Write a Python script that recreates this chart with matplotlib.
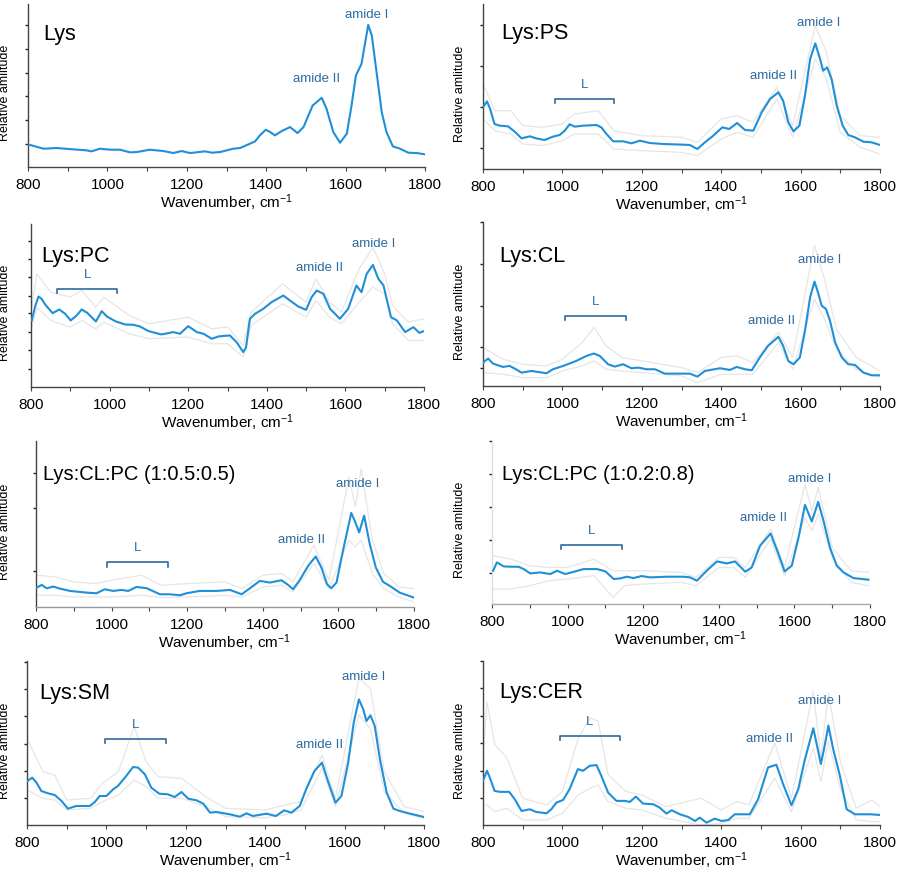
import matplotlib
matplotlib.use("Agg")
import matplotlib.pyplot as plt
from matplotlib.ticker import MultipleLocator

plt.rcParams['font.family'] = ['Liberation Sans', 'DejaVu Sans']
plt.rcParams['mathtext.fontset'] = 'custom'
plt.rcParams['mathtext.rm'] = 'Liberation Sans'
plt.rcParams['mathtext.it'] = 'Liberation Sans'

# ---------------- data (relative amplitude, arbitrary units) ----------------
titles = ["Lys", "Lys:PS", "Lys:PC", "Lys:CL",
          "Lys:CL:PC (1:0.5:0.5)", "Lys:CL:PC (1:0.2:0.8)", "Lys:SM", "Lys:CER"]

# Lys
lys_wn = [800, 839, 872, 948, 960, 981, 1007, 1032, 1057, 1074, 1107, 1141, 1166, 1187, 1208,
          1246, 1263, 1284, 1317, 1334, 1359, 1372, 1384, 1399, 1410, 1422, 1439, 1460, 1479,
          1494, 1517, 1540, 1552, 1569, 1586, 1603, 1615, 1626, 1640, 1657, 1666, 1678, 1691,
          1703, 1719, 1737, 1758, 1779, 1800]
lys_mean = [0.68, 0.55, 0.57, 0.50, 0.47, 0.55, 0.52, 0.52, 0.44, 0.45, 0.52, 0.48, 0.42, 0.48,
            0.42, 0.47, 0.43, 0.45, 0.55, 0.57, 0.70, 0.77, 0.95, 1.12, 1.05, 0.95, 1.08, 1.20,
            1.02, 1.20, 1.85, 2.08, 1.75, 1.05, 0.73, 1.00, 1.85, 2.75, 3.10, 4.27, 3.95, 2.85,
            1.65, 1.05, 0.62, 0.55, 0.43, 0.42, 0.38]

# Lys:PS
ps_wn = [800, 810, 818, 829, 842, 863, 880, 897, 918, 934, 955, 976, 993, 1006, 1018, 1031, 1052,
         1086, 1098, 1111, 1128, 1153, 1174, 1195, 1220, 1254, 1304, 1321, 1340, 1359, 1380, 1403,
         1420, 1440, 1460, 1481, 1502, 1523, 1544, 1556, 1569, 1582, 1597, 1611, 1624, 1637, 1649,
         1657, 1667, 1678, 1691, 1706, 1720, 1737, 1758, 1779, 1800]
ps_mean = [1.85, 2.03, 1.80, 1.35, 1.30, 1.28, 1.12, 0.92, 0.98, 0.92, 0.87, 0.97, 1.02, 1.15,
           1.34, 1.27, 1.30, 1.32, 1.25, 1.05, 0.83, 0.83, 0.77, 0.85, 0.78, 0.75, 0.73, 0.72,
           0.60, 0.80, 1.00, 1.25, 1.20, 1.38, 1.17, 1.15, 1.70, 2.10, 2.30, 2.05, 1.40, 1.13,
           1.30, 2.20, 3.30, 3.77, 3.30, 2.95, 3.05, 2.70, 1.90, 1.30, 1.02, 0.95, 0.82, 0.80, 0.72]
ps_gray_wn = [800, 830, 870, 900, 950, 1000, 1030, 1090, 1130, 1200, 1300, 1340, 1400, 1440, 1480,
              1540, 1580, 1637, 1665, 1700, 1750, 1800]
ps_gray_hi = [2.55, 1.75, 1.75, 1.30, 1.25, 1.35, 1.65, 1.75, 1.15, 1.00, 0.95, 0.80, 1.50, 1.60,
              1.40, 2.45, 1.30, 4.30, 3.50, 1.60, 1.00, 0.95]
ps_gray_lo = [1.50, 1.15, 1.05, 0.75, 0.70, 0.85, 1.05, 1.05, 0.60, 0.55, 0.50, 0.40, 0.90, 1.10,
              0.95, 2.10, 0.95, 3.30, 2.70, 1.10, 0.65, 0.45]

# Lys:PC
pc_wn = [802, 810, 819, 827, 836, 855, 872, 887, 901, 916, 929, 943, 965, 980, 993, 1014, 1039,
         1060, 1077, 1099, 1132, 1162, 1179, 1200, 1222, 1239, 1260, 1277, 1306, 1323, 1340, 1347,
         1357, 1370, 1391, 1412, 1442, 1459, 1480, 1500, 1514, 1527, 1544, 1561, 1586, 1607, 1628,
         1641, 1654, 1670, 1684, 1697, 1716, 1731, 1752, 1773, 1788, 1800]
pc_mean = [2.00, 2.40, 2.72, 2.65, 2.48, 2.22, 2.33, 2.20, 2.00, 2.15, 2.33, 2.23, 1.97, 2.28,
           2.12, 1.98, 1.88, 1.87, 1.82, 1.68, 1.58, 1.65, 1.60, 1.83, 1.65, 1.60, 1.45, 1.52,
           1.55, 1.35, 1.05, 1.18, 2.05, 2.20, 2.35, 2.55, 2.75, 2.60, 2.42, 2.32, 2.70, 2.90,
           2.80, 2.35, 2.05, 2.35, 3.05, 2.85, 3.40, 3.67, 3.25, 3.05, 2.10, 2.00, 1.65, 1.80,
           1.63, 1.68]
pc_gray_wn = [802, 815, 850, 900, 930, 965, 985, 1050, 1100, 1200, 1260, 1300, 1340, 1360, 1440,
              1500, 1525, 1560, 1590, 1635, 1670, 1700, 1720, 1760, 1800]
pc_gray_hi = [2.40, 3.40, 2.85, 2.70, 2.90, 2.40, 2.70, 2.15, 1.90, 2.10, 1.75, 1.80, 1.25, 2.25,
              3.10, 2.55, 3.25, 2.55, 2.25, 3.55, 4.20, 3.40, 2.45, 1.95, 2.05]
pc_gray_lo = [1.80, 2.40, 2.00, 1.80, 2.00, 1.75, 1.95, 1.60, 1.45, 1.50, 1.30, 1.30, 0.90, 1.85,
              2.50, 2.10, 2.60, 2.10, 1.90, 2.55, 3.00, 2.80, 1.90, 1.40, 1.40]

# Lys:CL
cl_wn = [800, 813, 825, 850, 867, 880, 897, 922, 960, 976, 1002, 1035, 1061, 1079, 1094, 1115,
         1132, 1153, 1174, 1191, 1212, 1233, 1258, 1304, 1321, 1340, 1359, 1397, 1422, 1439, 1460,
         1477, 1497, 1518, 1544, 1556, 1569, 1582, 1598, 1611, 1624, 1635, 1645, 1653, 1664, 1674,
         1687, 1704, 1720, 1737, 1758, 1779, 1800]
cl_mean = [0.70, 0.82, 0.67, 0.57, 0.60, 0.52, 0.40, 0.45, 0.38, 0.50, 0.60, 0.75, 0.90, 0.97,
           0.90, 0.65, 0.58, 0.65, 0.53, 0.55, 0.50, 0.50, 0.37, 0.37, 0.37, 0.28, 0.45, 0.53,
           0.48, 0.57, 0.50, 0.47, 0.85, 1.20, 1.47, 1.20, 0.75, 0.65, 0.85, 1.65, 2.65, 3.12,
           2.75, 2.40, 2.30, 1.95, 1.30, 0.85, 0.65, 0.63, 0.40, 0.32, 0.32]
cl_gray_wn = [800, 850, 900, 960, 1000, 1050, 1080, 1110, 1150, 1200, 1300, 1340, 1400, 1440, 1480,
              1544, 1580, 1635, 1660, 1690, 1740, 1800]
cl_gray_hi = [1.15, 0.80, 0.65, 0.60, 0.80, 1.30, 1.75, 1.20, 0.85, 0.75, 0.55, 0.40, 0.85, 0.90,
              0.70, 1.60, 0.85, 4.20, 3.20, 1.70, 0.85, 0.45]
cl_gray_lo = [0.40, 0.35, 0.25, 0.25, 0.45, 0.60, 0.75, 0.50, 0.45, 0.40, 0.30, 0.10, 0.35, 0.35,
              0.35, 1.30, 0.50, 2.60, 2.00, 1.10, 0.50, 0.25]

# Lys:CL:PC (1:0.5:0.5)
clpc1_wn = [802, 815, 828, 846, 863, 890, 934, 960, 982, 1004, 1026, 1044, 1066, 1093, 1128, 1154,
            1181, 1198, 1233, 1278, 1313, 1344, 1366, 1392, 1419, 1449, 1467, 1480, 1498, 1520,
            1540, 1555, 1570, 1581, 1595, 1612, 1634, 1643, 1655, 1668, 1683, 1699, 1718, 1736,
            1762, 1800]
clpc1_mean = [0.58, 0.66, 0.56, 0.61, 0.55, 0.48, 0.43, 0.41, 0.53, 0.48, 0.51, 0.48, 0.60, 0.56,
              0.38, 0.38, 0.35, 0.41, 0.48, 0.48, 0.51, 0.38, 0.56, 0.78, 0.73, 0.80, 0.66, 0.53,
              0.81, 1.23, 1.51, 1.18, 0.68, 0.56, 0.73, 1.68, 2.81, 2.58, 2.23, 2.73, 1.88, 1.18,
              0.75, 0.63, 0.43, 0.28]
clpc1_gray_wn = [802, 850, 900, 960, 1000, 1080, 1130, 1200, 1300, 1345, 1400, 1450, 1480, 1535,
                 1575, 1628, 1645, 1660, 1690, 1720, 1760, 1800]
clpc1_gray_hi = [0.95, 0.90, 0.75, 0.70, 0.80, 0.95, 0.65, 0.70, 0.75, 0.55, 0.95, 1.00, 0.75, 1.85,
                 0.80, 3.88, 3.00, 4.13, 2.00, 1.00, 0.60, 0.55]
clpc1_gray_lo = [0.35, 0.35, 0.30, 0.30, 0.30, 0.35, 0.28, 0.30, 0.35, 0.30, 0.60, 0.65, 0.45, 1.30,
                 0.55, 2.00, 1.80, 2.00, 1.00, 0.55, 0.30, 0.15]

# Lys:CL:PC (1:0.2:0.8)
clpc2_wn = [803, 813, 831, 853, 870, 884, 901, 928, 954, 972, 994, 1020, 1042, 1078, 1100, 1122,
            1139, 1157, 1174, 1196, 1218, 1263, 1307, 1324, 1342, 1368, 1395, 1421, 1443, 1470,
            1487, 1509, 1537, 1558, 1574, 1593, 1611, 1628, 1646, 1663, 1677, 1694, 1712, 1730,
            1756, 1796]
clpc2_mean = [1.00, 1.25, 1.13, 1.12, 1.12, 1.05, 0.92, 0.95, 0.90, 1.00, 0.90, 0.98, 1.05, 1.05,
              0.98, 0.75, 0.77, 0.82, 0.78, 0.84, 0.80, 0.82, 0.82, 0.80, 0.70, 1.00, 1.28, 1.22,
              1.28, 0.97, 1.10, 1.75, 2.12, 1.50, 0.98, 1.15, 2.00, 2.98, 2.48, 3.07, 2.50, 1.70,
              1.15, 0.95, 0.78, 0.73]
clpc2_gray_wn = [803, 850, 900, 950, 1000, 1070, 1120, 1150, 1200, 1300, 1340, 1400, 1440, 1470,
                 1537, 1574, 1628, 1646, 1663, 1700, 1750, 1796]
clpc2_gray_hi = [1.45, 1.35, 1.15, 1.10, 1.10, 1.35, 1.00, 1.00, 1.00, 0.95, 0.80, 1.40, 1.40, 1.10,
                 2.25, 1.10, 3.60, 2.80, 3.50, 1.70, 1.00, 0.95]
clpc2_gray_lo = [0.45, 0.45, 0.55, 0.70, 0.75, 0.85, 0.20, 0.55, 0.60, 0.65, 0.55, 1.10, 1.10, 0.80,
                 1.95, 0.85, 2.60, 2.20, 2.70, 1.40, 0.65, 0.55]

# Lys:SM
sm_wn = [801, 813, 824, 836, 853, 870, 887, 903, 924, 958, 971, 983, 1000, 1017, 1029, 1050, 1067,
         1080, 1097, 1113, 1133, 1155, 1172, 1189, 1206, 1227, 1244, 1261, 1277, 1311, 1336, 1353,
         1369, 1403, 1427, 1448, 1466, 1487, 1503, 1524, 1543, 1558, 1577, 1592, 1609, 1623, 1636,
         1647, 1655, 1665, 1676, 1689, 1706, 1723, 1739, 1765, 1800]
sm_mean = [1.32, 1.42, 1.27, 1.02, 0.95, 0.90, 0.72, 0.49, 0.57, 0.57, 0.69, 0.87, 0.87, 1.07,
           1.17, 1.47, 1.74, 1.72, 1.52, 1.12, 0.94, 0.92, 0.84, 0.99, 0.79, 0.74, 0.64, 0.37,
           0.39, 0.32, 0.25, 0.35, 0.27, 0.34, 0.27, 0.44, 0.37, 0.57, 1.07, 1.62, 1.87, 1.32,
           0.67, 0.87, 1.87, 3.07, 3.77, 3.47, 3.12, 3.29, 2.97, 1.97, 0.97, 0.49, 0.42, 0.34, 0.24]
sm_gray_wn = [801, 840, 870, 900, 960, 990, 1030, 1070, 1100, 1130, 1190, 1250, 1300, 1400, 1450,
              1490, 1543, 1577, 1636, 1665, 1700, 1750, 1800]
sm_gray_hi = [2.57, 1.60, 1.50, 0.75, 0.80, 1.25, 1.60, 2.95, 1.90, 1.45, 1.40, 0.85, 0.50, 0.45,
              0.60, 0.70, 2.10, 0.80, 4.40, 4.10, 1.60, 0.55, 0.40]
sm_gray_lo = [1.05, 0.80, 0.75, 0.45, 0.50, 0.70, 0.90, 1.35, 1.15, 0.80, 0.80, 0.55, 0.25, 0.22,
              0.30, 0.45, 1.70, 0.55, 3.30, 2.90, 1.00, 0.35, 0.20]

# Lys:CER
cer_wn = [800, 810, 817, 829, 842, 866, 880, 897, 918, 934, 960, 972, 985, 1002, 1018, 1039, 1052,
          1069, 1086, 1098, 1115, 1136, 1157, 1170, 1185, 1203, 1229, 1245, 1262, 1275, 1296, 1317,
          1334, 1346, 1363, 1384, 1401, 1418, 1434, 1472, 1493, 1518, 1539, 1556, 1577, 1594, 1611,
          1632, 1645, 1651, 1659, 1670, 1682, 1699, 1716, 1737, 1775, 1800]
cer_mean = [1.32, 1.62, 1.42, 1.02, 0.99, 0.99, 0.77, 0.42, 0.47, 0.39, 0.35, 0.47, 0.67, 0.75,
            1.07, 1.67, 1.62, 1.77, 1.79, 1.47, 0.97, 0.72, 0.72, 0.69, 0.85, 0.64, 0.62, 0.52,
            0.34, 0.44, 0.32, 0.24, 0.12, 0.22, 0.07, 0.19, 0.12, 0.15, 0.32, 0.32, 0.77, 1.72,
            1.80, 1.22, 0.59, 1.07, 1.97, 2.89, 2.17, 1.82, 2.27, 2.97, 2.27, 1.47, 0.47, 0.32,
            0.32, 0.30]
cer_gray_wn = [800, 810, 830, 860, 900, 960, 1000, 1040, 1070, 1090, 1115, 1160, 1200, 1260, 1350,
               1400, 1440, 1470, 1535, 1577, 1632, 1651, 1670, 1700, 1740, 1780, 1800]
cer_gray_hi = [2.00, 3.67, 2.40, 2.00, 0.80, 0.60, 1.00, 2.60, 3.20, 3.10, 1.50, 1.00, 0.90, 0.55,
               0.80, 0.45, 0.70, 0.60, 2.45, 0.80, 4.00, 2.00, 3.95, 1.90, 0.50, 0.75, 0.55]
cer_gray_lo = [0.60, 0.60, 0.40, 0.50, 0.15, 0.15, 0.35, 0.90, 1.10, 1.20, 0.70, 0.50, 0.45, 0.20,
               0.00, 0.05, 0.20, 0.20, 1.40, 0.40, 2.30, 1.30, 2.50, 1.10, 0.15, 0.10, 0.10]

# annotation anchors (wavenumber, amplitude)
amide1_pos = [(1653, 4.60), (1645, 4.40), (1671, 4.32), (1649, 3.80),
              (1652, 3.70), (1641, 3.80), (1647, 4.47), (1649, 3.72)]
amide2_pos = [(1527, 2.67), (1531, 2.82), (1534, 3.60), (1527, 1.97),
              (1502, 2.03), (1518, 2.62), (1538, 2.44), (1521, 2.59)]
lipid_band = [None, (981, 1130, 2.10), (867, 1019, 2.95), (1006, 1159, 2.10),
              (989, 1150, 1.33), (983, 1144, 1.77), (997, 1149, 2.59), (993, 1145, 2.67)]

# ---------------- layout ----------------
W, H = 899, 870
# (left, right, top, bottom) in pixels
rects = [(28, 425, 5, 168), (483, 880, 5, 170),
         (31, 424, 225, 388), (483, 880, 223, 387),
         (36, 414, 442, 608), (492, 870, 442, 605),
         (27, 424, 662, 826), (483, 880, 662, 826)]
ylims = [4.90, 4.95, 4.90, 4.90, 4.96, 4.90, 4.92, 4.90]
yticks = [[0.68, 1.40, 2.12, 2.83, 3.55, 4.27],
          [0.63, 1.87, 3.10, 4.33],
          [0.53, 1.10, 1.65, 2.22, 2.75, 3.30, 3.85, 4.40],
          [0.55, 1.17, 2.40, 3.65, 4.90],
          [1.08, 2.96, 4.00],
          [0.92, 1.92, 2.92, 3.90, 4.90],
          [0.80, 1.62, 2.44, 3.27, 4.09, 4.90],
          [0.80, 1.62, 2.44, 3.27, 4.09, 4.90]]
title_pos = [(0.039, 0.816), (0.046, 0.83), (0.025, 0.806), (0.04, 0.796),
             (0.018, 0.806), (0.026, 0.80), (0.032, 0.807), (0.04, 0.814)]
title_size = [15.5, 15.5, 15.5, 15.5, 14.5, 14.5, 15.5, 15.5]
ylabel_x = [11, 466, 11, 466, 11, 466, 11, 466]

means = [(lys_wn, lys_mean), (ps_wn, ps_mean), (pc_wn, pc_mean), (cl_wn, cl_mean),
         (clpc1_wn, clpc1_mean), (clpc2_wn, clpc2_mean), (sm_wn, sm_mean), (cer_wn, cer_mean)]
grays = [None,
         (ps_gray_wn, ps_gray_hi, ps_gray_lo),
         (pc_gray_wn, pc_gray_hi, pc_gray_lo),
         (cl_gray_wn, cl_gray_hi, cl_gray_lo),
         (clpc1_gray_wn, clpc1_gray_hi, clpc1_gray_lo),
         (clpc2_gray_wn, clpc2_gray_hi, clpc2_gray_lo),
         (sm_gray_wn, sm_gray_hi, sm_gray_lo),
         (cer_gray_wn, cer_gray_hi, cer_gray_lo)]

BLUE = '#1f8fd8'
ANN = '#2c6aa0'
GRAY = '#e6e6e6'
SPINE = '#444444'

fig = plt.figure(figsize=(W / 100, H / 100), dpi=100)

for i in range(8):
    l, r, t, b = rects[i]
    ax = fig.add_axes([l / W, 1 - b / H, (r - l) / W, (b - t) / H])
    g = grays[i]
    if g is not None:
        gwn, ghi, glo = g
        ax.plot(gwn, ghi, color=GRAY, lw=0.9, zorder=1, solid_joinstyle='round')
        ax.plot(gwn, glo, color=GRAY, lw=0.9, zorder=1, solid_joinstyle='round')
    wn, m = means[i]
    ax.plot(wn, m, color=BLUE, lw=1.5, zorder=3, solid_joinstyle='round')

    ax.set_xlim(800, 1800)
    ax.set_ylim(0, ylims[i])
    ax.xaxis.set_major_locator(MultipleLocator(200))
    ax.xaxis.set_minor_locator(MultipleLocator(100))
    ax.set_yticks(yticks[i])
    ax.set_yticklabels([])
    for s in ['top', 'right']:
        ax.spines[s].set_visible(False)
    for s in ['left', 'bottom']:
        ax.spines[s].set_color(SPINE)
        ax.spines[s].set_linewidth(1.0)
    if i == 5:
        ax.spines['left'].set_color('#dddddd')
        ax.spines['bottom'].set_color('#aaaaaa')
    if i == 4:
        ax.spines['bottom'].set_color('#999999')
    ax.tick_params(axis='x', which='both', direction='out', length=3, width=0.8,
                   color=SPINE, labelsize=11, pad=4)
    ax.tick_params(axis='y', which='both', direction='out', length=2.5, width=1.0,
                   color='#222222')

    ax.set_xlabel(r'Wavenumber, cm$^{\mathregular{-1}}$', fontsize=11)
    ax.xaxis.set_label_coords(0.5, -24 / (b - t))
    ax.set_ylabel('Relative amlitude', fontsize=9)
    ax.yaxis.set_label_coords((ylabel_x[i] - l) / (r - l), 0.46)

    ax.text(title_pos[i][0], title_pos[i][1], titles[i], transform=ax.transAxes,
            fontsize=title_size[i], ha='left', va='center', color='black')

    ax.text(amide1_pos[i][0], amide1_pos[i][1], 'amide I', color=ANN, fontsize=9.5,
            ha='center', va='center')
    ax.text(amide2_pos[i][0], amide2_pos[i][1], 'amide II', color=ANN, fontsize=9.5,
            ha='center', va='center')
    lb = lipid_band[i]
    if lb is not None:
        x0, x1, yb = lb
        tick = 0.12
        ax.plot([x0, x0, x1, x1], [yb - tick, yb, yb, yb - tick], color=ANN, lw=1.2)
        ax.text((x0 + x1) / 2, yb + 0.45, 'L', color=ANN, fontsize=9.5,
                ha='center', va='center')

fig.savefig('out.png', dpi=100)
